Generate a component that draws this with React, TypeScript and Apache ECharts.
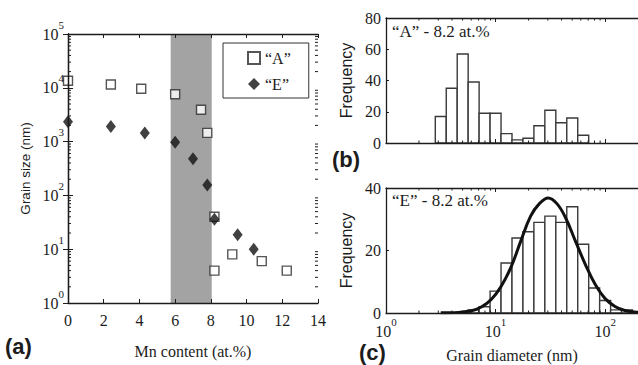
import React, { useEffect, useRef } from 'react';
import * as echarts from 'echarts';

// ---------- Panel (a): grain size vs Mn content ----------
const mnContentA = [0, 2.4, 4.1, 6.0, 7.45, 7.8, 8.2, 8.2, 9.2, 10.85, 12.25];
const grainSizeA = [13500, 11500, 9600, 7600, 3900, 1450, 40, 4, 8, 6, 4];
const mnContentE = [0, 2.4, 4.3, 6.0, 7.0, 7.8, 8.2, 9.5, 10.4];
const grainSizeE = [2350, 1900, 1450, 970, 480, 156, 36, 18.5, 10];
const transitionBand = [5.75, 8.05];
const seriesNames = ['\u201CA\u201D', '\u201CE\u201D'];

// ---------- Panel (b): histogram "A" (bin centres in log10(nm)) ----------
const binWidthLog = 0.1;
const binCentersA = [0.5, 0.6, 0.7, 0.8, 0.9, 1.0, 1.1, 1.2, 1.3, 1.4, 1.5, 1.6, 1.7, 1.8];
const freqA = [17, 35, 57, 39, 19, 19, 6, 2, 3, 11, 21, 13, 16, 5];

// ---------- Panel (c): histogram "E" + fitted curve ----------
const binCentersE = [0.8, 0.9, 1.0, 1.1, 1.2, 1.3, 1.4, 1.5, 1.6, 1.7, 1.8, 1.9, 2.0, 2.1, 2.2];
const freqE = [1, 2, 7, 16, 24, 26, 29, 31, 29, 34, 22, 8, 4, 1, 1];
const fitLogD = [0.5, 0.66, 0.78, 0.87, 0.96, 1.05, 1.14, 1.23, 1.32, 1.4, 1.48, 1.56, 1.64, 1.73, 1.82, 1.91, 2.0, 2.09, 2.18, 2.27, 2.36];
const fitFreq = [0.05, 0.2, 0.7, 1.9, 4.3, 8.5, 14.6, 23, 31, 35, 36.8, 35, 30.4, 22.9, 15.5, 9.1, 4.6, 2.1, 0.8, 0.3, 0.1];

const xLogMax = 2.3;

const SERIF = '"Liberation Serif", "Times New Roman", serif';
const SANS = '"Liberation Sans", Arial, sans-serif';
const INK = '#1c1c1c';

const richSup = {
  b: { fontFamily: SERIF, fontSize: 16, color: INK, lineHeight: 30 },
  s: { fontFamily: SERIF, fontSize: 11, color: INK, lineHeight: 14, verticalAlign: 'top' },
};

const axisLine = { show: true, lineStyle: { color: INK, width: 1.3 } };
const tickIn = (len: number) => ({ show: true, inside: true, length: len, lineStyle: { color: INK, width: 1 } });

// minor tick positions for log axes
const minorLogY: number[] = [];
for (let n = 0; n < 5; n++) for (let k = 2; k <= 9; k++) minorLogY.push(k * Math.pow(10, n));
const minorLogX: number[] = [];
for (let n = 0; n < 3; n++) for (let k = 2; k <= 9; k++) {
  const v = n + Math.log10(k);
  if (v < xLogMax) minorLogX.push(v);
}

const histRender = (params: any, api: any) => {
  const c = api.value(0);
  const f = api.value(1);
  const p0 = api.coord([c - binWidthLog / 2, f]);
  const p1 = api.coord([c + binWidthLog / 2, 0]);
  return {
    type: 'rect',
    shape: { x: p0[0], y: p0[1], width: p1[0] - p0[0], height: p1[1] - p0[1] },
    style: { fill: '#ffffff', stroke: '#3a3a3a', lineWidth: 1.4 },
  };
};

const minorXRender = (yTop: number) => (params: any, api: any) => {
  const v = api.value(0);
  const t = api.coord([v, yTop]);
  const b = api.coord([v, 0]);
  return {
    type: 'group',
    children: [
      { type: 'line', shape: { x1: t[0], y1: t[1], x2: t[0], y2: t[1] + 2.5 }, style: { stroke: INK, lineWidth: 1 } },
      { type: 'line', shape: { x1: b[0], y1: b[1], x2: b[0], y2: b[1] - 2.5 }, style: { stroke: INK, lineWidth: 1 } },
    ],
  };
};

const logXLabel = (v: number) => (Math.abs(v - Math.round(v)) < 1e-6 ? `{b|10}{s|${Math.round(v)}}` : '');

const option: any = {
  animation: false,
  backgroundColor: '#ffffff',
  grid: [
    { left: 68, top: 34, width: 250, height: 269 },
    { left: 386, top: 18, width: 112 * xLogMax, height: 125 },
    { left: 386, top: 188, width: 112 * xLogMax, height: 125 },
  ],
  legend: {
    data: seriesNames,
    orient: 'vertical',
    left: 223,
    top: 43,
    padding: [7, 18, 6, 24],
    itemGap: 10,
    itemWidth: 12,
    itemHeight: 12,
    borderColor: '#333',
    borderWidth: 1,
    backgroundColor: '#fff',
    textStyle: { fontFamily: SERIF, fontSize: 16, color: INK },
    selectedMode: false,
  },
  xAxis: [
    {
      gridIndex: 0, type: 'value', min: 0, max: 14, interval: 2, position: 'bottom', z: 10,
      axisLine, axisTick: tickIn(4), splitLine: { show: false },
      axisLabel: { fontFamily: SERIF, fontSize: 16, color: INK, margin: 9 },
      name: 'Mn content (at.%)', nameLocation: 'middle', nameGap: 40,
      nameTextStyle: { fontFamily: SERIF, fontSize: 16, color: INK },
    },
    {
      gridIndex: 0, type: 'value', min: 0, max: 14, interval: 2, position: 'top', z: 10,
      axisLine, axisTick: tickIn(4), splitLine: { show: false }, axisLabel: { show: false },
    },
    {
      gridIndex: 1, type: 'value', min: 0, max: xLogMax, interval: 1, position: 'bottom', z: 10,
      axisLine, axisTick: tickIn(4), splitLine: { show: false }, axisLabel: { show: false },
    },
    {
      gridIndex: 1, type: 'value', min: 0, max: xLogMax, interval: 1, position: 'top', z: 10,
      axisLine, axisTick: tickIn(4), splitLine: { show: false }, axisLabel: { show: false },
    },
    {
      gridIndex: 2, type: 'value', min: 0, max: xLogMax, interval: 1, position: 'bottom', z: 10,
      axisLine, axisTick: tickIn(4), splitLine: { show: false },
      axisLabel: { formatter: logXLabel, rich: richSup, margin: 3, showMaxLabel: false },
      name: 'Grain diameter (nm)', nameLocation: 'middle', nameGap: 34,
      nameTextStyle: { fontFamily: SERIF, fontSize: 16, color: INK },
    },
    {
      gridIndex: 2, type: 'value', min: 0, max: xLogMax, interval: 1, position: 'top', z: 10,
      axisLine, axisTick: tickIn(4), splitLine: { show: false }, axisLabel: { show: false },
    },
  ],
  yAxis: [
    {
      gridIndex: 0, type: 'log', logBase: 10, min: 1, max: 100000, position: 'left', z: 10,
      axisLine, axisTick: tickIn(5), splitLine: { show: false }, minorTick: { show: false },
      axisLabel: {
        formatter: (v: number) => `{b|10}{s|${Math.round(Math.log10(v))}}`,
        rich: richSup, margin: 4,
      },
      name: 'Grain size (nm)', nameLocation: 'middle', nameGap: 36,
      nameTextStyle: { fontFamily: SANS, fontSize: 13.5, color: INK },
    },
    {
      gridIndex: 0, type: 'log', logBase: 10, min: 1, max: 100000, position: 'right', z: 10,
      axisLine, axisTick: tickIn(5), splitLine: { show: false }, axisLabel: { show: false },
    },
    {
      gridIndex: 1, type: 'value', min: 0, max: 80, interval: 20, position: 'left', z: 10,
      axisLine, axisTick: tickIn(3), splitLine: { show: false },
      axisLabel: { fontFamily: SERIF, fontSize: 16, color: INK, margin: 5 },
      name: 'Frequency', nameLocation: 'middle', nameGap: 32,
      nameTextStyle: { fontFamily: SANS, fontSize: 16, color: INK },
    },
    {
      gridIndex: 2, type: 'value', min: 0, max: 40, interval: 20, position: 'left', z: 10,
      axisLine, axisTick: tickIn(3), splitLine: { show: false },
      axisLabel: { fontFamily: SERIF, fontSize: 16, color: INK, margin: 5 },
      name: 'Frequency', nameLocation: 'middle', nameGap: 32,
      nameTextStyle: { fontFamily: SANS, fontSize: 16, color: INK },
    },
  ],
  series: [
    {
      name: 'band', type: 'custom', xAxisIndex: 0, yAxisIndex: 0, z: 1, silent: true,
      data: [[transitionBand[0], transitionBand[1]]],
      encode: { x: [0, 1] },
      renderItem: (params: any, api: any) => {
        const p0 = api.coord([api.value(0), 100000]);
        const p1 = api.coord([api.value(1), 1]);
        return {
          type: 'rect',
          shape: { x: p0[0], y: p0[1], width: p1[0] - p0[0], height: p1[1] - p0[1] },
          style: { fill: '#a3a3a3' },
        };
      },
    },
    {
      name: 'minorY', type: 'custom', xAxisIndex: 0, yAxisIndex: 0, z: 2, silent: true,
      data: minorLogY.map((v) => [0, v]),
      renderItem: (params: any, api: any) => {
        const l = api.coord([0, api.value(1)]);
        const r = api.coord([14, api.value(1)]);
        return {
          type: 'group',
          children: [
            { type: 'line', shape: { x1: l[0], y1: l[1], x2: l[0] + 3, y2: l[1] }, style: { stroke: INK, lineWidth: 1 } },
            { type: 'line', shape: { x1: r[0], y1: r[1], x2: r[0] - 3, y2: r[1] }, style: { stroke: INK, lineWidth: 1 } },
          ],
        };
      },
    },
    {
      name: seriesNames[0], type: 'scatter', xAxisIndex: 0, yAxisIndex: 0, z: 4,
      symbol: 'rect', symbolSize: 9,
      itemStyle: { color: '#ffffff', borderColor: '#2a2a2a', borderWidth: 1.4 },
      data: mnContentA.map((x, i) => [x, grainSizeA[i]]),
    },
    {
      name: seriesNames[1], type: 'scatter', xAxisIndex: 0, yAxisIndex: 0, z: 5,
      symbol: 'diamond', symbolSize: [10, 13],
      itemStyle: { color: '#111111' },
      data: mnContentE.map((x, i) => [x, grainSizeE[i]]),
    },
    {
      name: 'histA', type: 'custom', xAxisIndex: 2, yAxisIndex: 2, z: 3, silent: true,
      data: binCentersA.map((c, i) => [c, freqA[i]]),
      renderItem: histRender,
    },
    {
      name: 'minorXA', type: 'custom', xAxisIndex: 2, yAxisIndex: 2, z: 3, silent: true,
      data: minorLogX.map((v) => [v, 0]),
      renderItem: minorXRender(80),
    },
    {
      name: 'histE', type: 'custom', xAxisIndex: 4, yAxisIndex: 3, z: 3, silent: true,
      data: binCentersE.map((c, i) => [c, freqE[i]]),
      renderItem: histRender,
    },
    {
      name: 'minorXE', type: 'custom', xAxisIndex: 4, yAxisIndex: 3, z: 3, silent: true,
      data: minorLogX.map((v) => [v, 0]),
      renderItem: minorXRender(40),
    },
    {
      name: 'fit', type: 'line', xAxisIndex: 4, yAxisIndex: 3, z: 6, silent: true,
      smooth: 0.4, symbol: 'none', showSymbol: false,
      lineStyle: { color: '#111111', width: 3 },
      data: fitLogD.map((x, i) => [x, fitFreq[i]]),
    },
  ],
  graphic: [
    { type: 'text', left: 5, top: 335, style: { text: '(a)', font: `bold 22px ${SANS}`, fill: INK } },
    { type: 'text', left: 332, top: 148, style: { text: '(b)', font: `bold 22px ${SANS}`, fill: INK } },
    { type: 'text', left: 359, top: 341, style: { text: '(c)', font: `bold 22px ${SANS}`, fill: INK } },
    { type: 'text', left: 392, top: 23, style: { text: '\u201CA\u201D - 8.2 at.%', font: `17px ${SERIF}`, fill: INK } },
    { type: 'text', left: 392, top: 192, style: { text: '\u201CE\u201D - 8.2 at.%', font: `17px ${SERIF}`, fill: INK } },
  ],
};

export default function App() {
  const ref = useRef<HTMLDivElement>(null);
  useEffect(() => {
    const chart = echarts.init(ref.current as HTMLDivElement, null, { renderer: 'svg' });
    chart.setOption(option);
    return () => chart.dispose();
  }, []);
  return (
    <div
      ref={ref}
      style={{ position: 'fixed', left: 0, top: 0, width: 638, height: 365, background: '#fff', overflow: 'hidden' }}
    />
  );
}
